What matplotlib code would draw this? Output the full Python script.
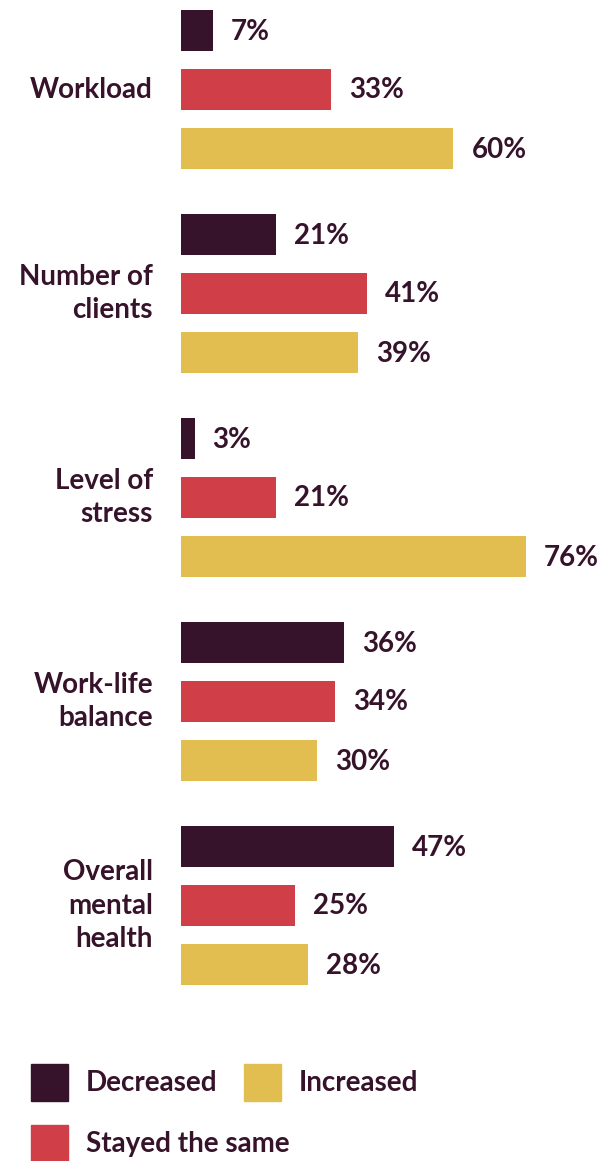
import matplotlib.pyplot as plt
from matplotlib.patches import Rectangle
import numpy as np

plt.rcParams['font.family'] = ['Lato', 'DejaVu Sans']

categories = ["Workload", "Number of\nclients", "Level of\nstress",
              "Work-life\nbalance", "Overall\nmental\nhealth"]
decreased = [7, 21, 3, 36, 47]
stayed = [33, 41, 21, 34, 25]
increased = [60, 39, 76, 30, 28]

series = ["Decreased", "Stayed the same", "Increased"]
colors = ["#36132a", "#d03f48", "#e2bd50"]
text_color = "#36132a"
fs = 20

W, H = 609, 1161
fig = plt.figure(figsize=(W / 100, H / 100), dpi=100)
ax = fig.add_axes([0, 0, 1, 1])

# x in percent (4.54 px per %), y in pixels from the top
px_per_pct = 4.54
x0 = 181
ax.set_xlim(-x0 / px_per_pct, (W - x0) / px_per_pct)
ax.set_ylim(H, 0)
ax.axis("off")

group_step = 204
bar_step = 59
bar_h = 41
first = 30.5
gap = 18 / px_per_pct

groups = np.arange(len(categories)) * group_step + first
for k, vals in enumerate([decreased, stayed, increased]):
    y = groups + k * bar_step
    ax.barh(y, vals, height=bar_h, color=colors[k], left=0)
    for yy, v in zip(y, vals):
        ax.text(v + gap, yy + 1, f"{v}%", va="center", ha="left",
                fontsize=fs, fontweight="bold", color=text_color)

for g, lab in zip(groups, categories):
    ax.text(-28 / px_per_pct, g + bar_step, lab, ha="right", va="center",
            fontsize=fs, fontweight="bold", color=text_color,
            linespacing=1.35, multialignment="right")

# legend
legend_items = [("Decreased", colors[0], 31, 1064),
                ("Increased", colors[2], 244, 1064),
                ("Stayed the same", colors[1], 31, 1125)]
for lab, c, lx, ly in legend_items:
    ax.add_patch(Rectangle(((lx - x0) / px_per_pct, ly), 37 / px_per_pct, 37,
                           color=c, clip_on=False))
    ax.text((lx + 55 - x0) / px_per_pct, ly + 19, lab, ha="left", va="center",
            fontsize=fs, fontweight="bold", color=text_color)

fig.savefig("out.png", dpi=100, facecolor="white")
